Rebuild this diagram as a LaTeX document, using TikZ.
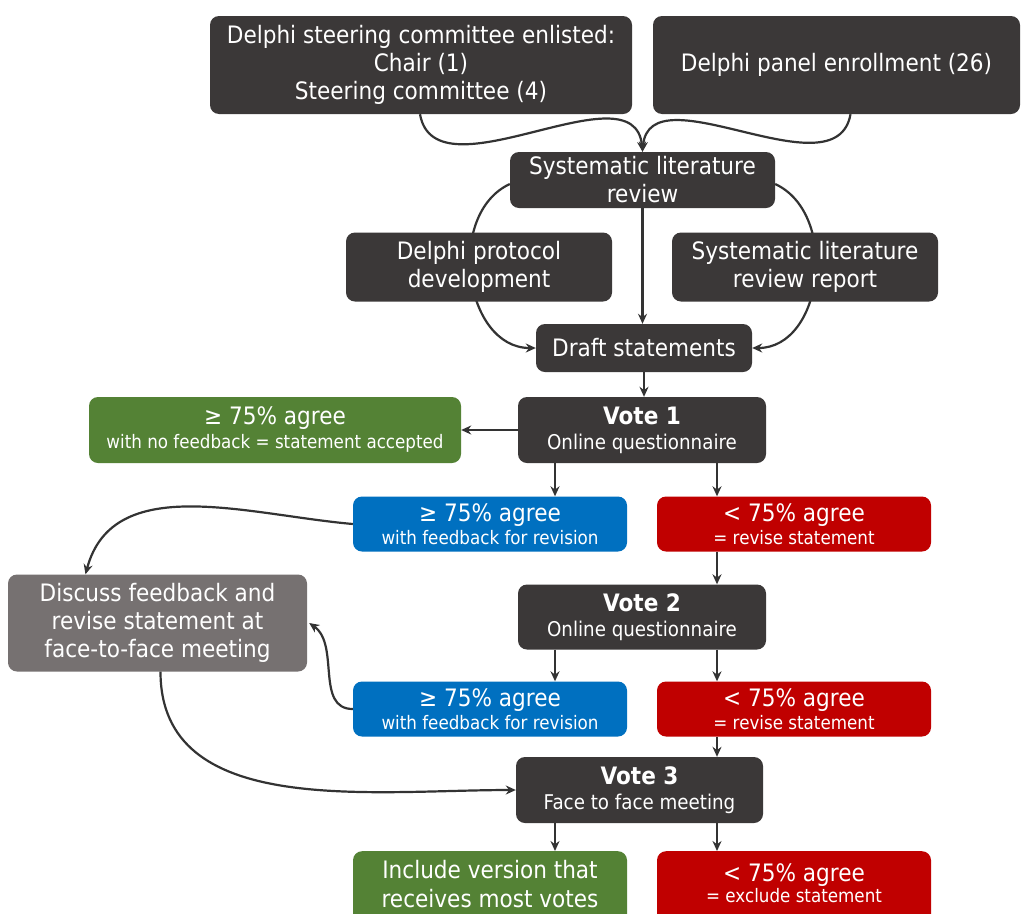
\documentclass[tikz,border=0pt]{standalone}
\usepackage{fontspec}
\setmainfont{DejaVu Sans}[FakeStretch=0.9]
\usetikzlibrary{arrows.meta,calc}
\definecolor{dk}{HTML}{3B3838}
\definecolor{gr}{HTML}{548235}
\definecolor{bl}{HTML}{0070C0}
\definecolor{rd}{HTML}{C00000}
\definecolor{gy}{HTML}{767171}
\definecolor{ln}{HTML}{333333}
\tikzset{
  box/.style={fill=#1, rounded corners=9pt, text=white, align=center, inner sep=0pt,
    font=\fontsize{24}{28}\selectfont},
  box/.default=dk,
  arr/.style={draw=ln, line width=2.2pt, -{Stealth[length=10pt,width=9pt]}},
}
\newcommand{\smtxt}[1]{{\fontsize{18.6}{22}\selectfont #1}}
\newcommand{\midtxt}[1]{{\fontsize{20.3}{24}\selectfont #1}}
\begin{document}
\begin{tikzpicture}[x=1pt,y=1pt]
\useasboundingbox (0,0) rectangle (1024,-913);
\fill[white] (0,0) rectangle (1024,-913);
\node[box, minimum width=422, minimum height=98] (st) at (421,-65) {Delphi steering committee enlisted:\\Chair (1)\\Steering committee (4)};
\node[box, minimum width=367, minimum height=98] (pan) at (836.5,-65) {Delphi panel enrollment (26)};
\node[box, minimum width=265, minimum height=56] (slr) at (642.5,-180) {Systematic literature\\review};
\node[box, minimum width=216, minimum height=48] (draft) at (644,-348) {Draft statements};
\draw[arr] ([yshift=-4pt]slr.west) to[out=205,in=180,looseness=1.1] (draft.west);
\draw[arr] ([yshift=-4pt]slr.east) to[out=-25,in=0,looseness=1.1] (draft.east);
\node[box, minimum width=266, minimum height=69] (prot) at (479,-267) {Delphi protocol\\development};
\node[box, minimum width=266, minimum height=69] (rep) at (805,-267) {Systematic literature\\review report};
\node[box, minimum width=248, minimum height=66] (v1) at (642,-430) {\textbf{Vote 1}\\[-3pt]\midtxt{Online questionnaire}};
\node[box=gr, minimum width=372, minimum height=66] (g1) at (275,-430) {≥ 75\% agree\\[-4pt]\smtxt{with no feedback = statement accepted}};
\node[box=bl, minimum width=274, minimum height=55] (b1) at (490,-524) {≥ 75\% agree\\[-5pt]\smtxt{with feedback for revision}};
\node[box=rd, minimum width=274, minimum height=55] (r1) at (794,-524) {< 75\% agree\\[-5pt]\smtxt{= revise statement}};
\node[box=gy, minimum width=299, minimum height=97] (disc) at (157.5,-623) {Discuss feedback and\\revise statement at\\face-to-face meeting};
\node[box, minimum width=248, minimum height=65] (v2) at (642,-617) {\textbf{Vote 2}\\[-3pt]\midtxt{Online questionnaire}};
\node[box=bl, minimum width=274, minimum height=55] (b2) at (490,-709) {≥ 75\% agree\\[-5pt]\smtxt{with feedback for revision}};
\node[box=rd, minimum width=274, minimum height=55] (r2) at (794,-709) {< 75\% agree\\[-5pt]\smtxt{= revise statement}};
\node[box, minimum width=247, minimum height=66] (v3) at (639.5,-790) {\textbf{Vote 3}\\[-3pt]\midtxt{Face to face meeting}};
\node[box=gr, minimum width=274, minimum height=80, anchor=north] (g2) at (490,-851) {};
\node[anchor=north, text=white, align=center, font=\fontsize{24}{29}\selectfont, inner sep=0pt] (g2t) at (490,-860) {Include version that\\receives most votes};
\node[box=rd, minimum width=274, minimum height=80, anchor=north] (r3) at (794,-851) {};
\node[anchor=north, text=white, align=center, font=\fontsize{24}{26}\selectfont, inner sep=0pt] (r3t) at (794,-863) {< 75\% agree\\[-5pt]\smtxt{= exclude statement}};
% connectors
\draw[arr] ([xshift=-1pt]st.south) to[out=-80,in=95] (slr.north);
\draw[arr] ([xshift=14pt]pan.south) to[out=-100,in=85] (slr.north);
\draw[arr] (slr.south) -- (slr.south |- draft.north);
\draw[arr] (draft.south) -- (draft.south |- v1.north);
\draw[arr] (v1.west) -- (g1.east);
\draw[arr] ([xshift=-87pt]v1.south) -- ([xshift=-87pt]v1.south |- b1.north);
\draw[arr] ([xshift=75pt]v1.south) -- ([xshift=75pt]v1.south |- r1.north);
\draw[arr] (b1.west) to[out=175,in=75] ([xshift=-72pt]disc.north);
\draw[arr] ([xshift=75pt]v2.north |- r1.south) -- ([xshift=75pt]v2.north);
\draw[arr] ([xshift=-87pt]v2.south) -- ([xshift=-87pt]v2.south |- b2.north);
\draw[arr] ([xshift=75pt]v2.south) -- ([xshift=75pt]v2.south |- r2.north);
\draw[arr] (b2.west) to[out=180,in=-35] ([xshift=2pt]disc.east);
\draw[arr] ([xshift=77.5pt]v3.north |- r2.south) -- ([xshift=77.5pt]v3.north);
\draw[arr] ([xshift=3pt]disc.south) to[out=-90,in=180] (v3.west);
\draw[arr] ([xshift=-84.5pt]v3.south) -- ([xshift=-84.5pt]v3.south |- g2.north);
\draw[arr] ([xshift=77.5pt]v3.south) -- ([xshift=77.5pt]v3.south |- r3.north);
\end{tikzpicture}
\end{document}
